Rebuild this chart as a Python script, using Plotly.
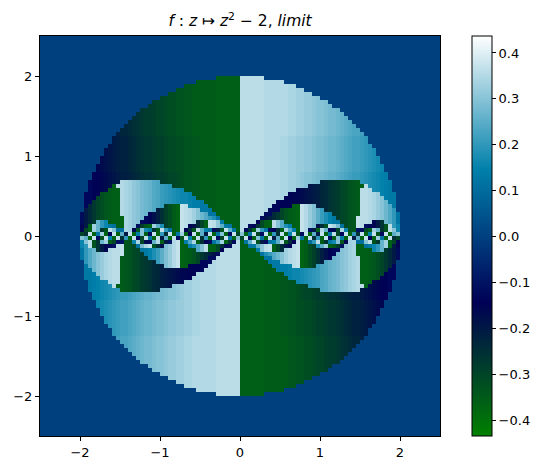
import numpy as np
import plotly.graph_objects as go

# Values, in hundredths, for the quadrant x>0, y>0.
# Cells are 0.05 wide. Rows run from y=1.975 down to y=0.025; short rows end at the disc edge.
quadrant_rows = [
[36,36,36,36,36,36],
[36,36,36,36,36,36,35,35,35,35,35],
[36,36,36,36,36,36,35,35,35,35,35,35,34,34],
[36,36,36,36,36,36,35,35,35,35,35,35,34,34,33,33],
[36,36,36,36,36,36,35,35,35,35,35,35,34,34,33,33,32,32],
[36,36,36,36,36,36,35,35,35,35,35,35,34,34,33,33,32,32,31,30],
[36,36,36,36,36,36,35,35,35,35,35,35,34,34,33,33,32,32,31,30,30,29],
[36,36,36,36,36,36,35,35,35,35,35,35,34,34,33,33,32,32,31,30,30,29,28],
[36,36,36,36,36,36,35,35,35,35,35,35,34,34,33,33,32,32,31,30,30,29,28,28,27],
[36,36,36,36,36,36,35,35,35,35,35,35,34,34,33,33,32,32,31,30,30,29,28,28,27,26],
[36,36,36,36,36,36,35,35,35,35,35,35,34,34,33,33,32,32,31,30,30,29,28,28,27,26,25],
[36,36,36,36,36,36,35,35,35,35,35,35,34,34,33,33,32,32,31,30,30,29,28,28,27,26,25,24],
[36,36,36,36,36,36,35,35,35,35,35,35,34,34,33,33,32,32,31,30,30,29,28,28,27,26,25,24,23],
[36,36,36,36,36,36,35,35,35,35,35,35,34,34,33,33,32,32,31,30,30,29,28,28,27,26,25,24,23,23],
[36,36,36,36,36,36,35,35,35,35,35,35,34,34,33,33,32,32,31,30,30,29,28,28,27,26,25,24,23,23,22],
[36,36,36,36,36,36,35,35,35,35,34,34,33,33,32,32,31,31,30,29,29,28,27,27,26,25,24,23,22,22,21,20],
[36,36,36,36,36,36,35,35,35,35,34,34,33,33,32,32,31,31,30,29,29,28,27,27,26,25,24,23,22,22,21,20],
[36,36,36,36,36,36,35,35,35,35,34,34,33,33,32,32,31,31,30,29,29,28,27,27,26,25,24,23,22,22,21,20,19],
[36,36,36,36,36,36,35,35,35,35,34,34,33,33,32,32,31,31,30,29,29,28,27,27,26,25,24,23,22,22,21,20,19,18],
[36,36,36,36,36,36,35,35,35,35,34,34,33,33,32,32,31,31,30,29,29,28,27,27,26,25,24,23,22,22,21,20,19,18],
[36,36,36,36,36,36,35,35,35,35,34,34,33,33,32,32,31,31,30,29,29,28,27,27,26,25,24,23,22,22,21,20,19,18,17],
[36,36,36,36,36,36,35,35,35,35,34,34,33,33,32,32,31,31,30,29,29,28,27,27,26,25,24,23,22,22,21,20,19,18,17],
[36,36,36,36,36,36,35,35,35,35,34,34,33,33,32,32,31,31,30,29,29,28,27,27,26,25,24,23,22,22,21,20,19,18,17,16],
[36,36,36,36,36,36,35,35,35,35,34,34,33,33,32,32,31,31,30,29,29,28,27,27,26,25,24,23,22,22,21,20,19,18,17,16],
[36,36,36,36,36,36,35,35,35,35,34,34,33,33,32,31,30,30,29,28,28,27,26,26,25,24,23,22,21,21,20,19,18,17,16,15,14],
[36,36,36,36,36,36,35,35,35,35,34,34,33,33,32,31,30,30,29,28,28,27,26,26,25,24,23,22,21,21,20,19,18,17,16,15,14],
[36,36,36,36,36,36,35,35,35,35,34,34,33,33,32,31,30,30,29,28,-23,-24,-26,-27,-28,-30,-31,-33,-34,-35,20,19,18,17,16,15,14,13],
[36,36,36,36,36,36,35,35,35,35,34,34,33,33,32,31,30,-19,-20,-21,-23,-24,-26,-27,-28,-30,-31,-33,-34,-35,-36,36,18,17,16,15,14,13],
[36,36,36,36,36,36,35,35,35,35,34,34,33,33,-16,-17,-18,-19,-20,-21,-23,-24,-26,-27,-28,-30,-31,-33,-34,-35,36,36,35,17,16,15,14,13],
[36,36,36,36,36,36,35,35,35,35,34,34,-15,-16,-16,-17,-18,-19,-20,-21,-23,-24,-26,-27,-28,-30,-31,-33,-34,-35,36,36,35,34,32,15,14,13,13],
[36,36,36,36,36,36,35,35,35,35,34,-14,-15,-16,-16,-17,-18,-19,-20,-21,-23,-24,-26,-27,-28,-30,-31,-33,-34,-35,36,36,35,34,32,30,14,13,13],
[36,36,36,36,36,36,35,35,35,-13,-14,-14,-15,-16,-16,-17,-18,-19,-20,-21,-23,-24,-26,-27,-28,-30,-31,-33,-34,-35,36,36,35,34,32,30,27,13,13],
[36,36,36,36,36,36,35,35,-13,-13,-14,-14,-15,-36,-37,37,35,32,29,-21,-23,-24,-26,-27,-28,-30,-31,-33,-34,-35,36,36,35,34,32,30,27,24,13],
[36,36,36,36,36,36,35,-12,-13,-13,-30,-33,-35,-36,-37,37,35,32,29,25,21,-24,-26,-27,-28,-30,-31,-33,-34,-35,36,36,35,34,32,30,27,24,20],
[36,36,36,36,36,36,-12,-12,-24,-27,-30,-33,-35,-36,-37,37,35,32,29,25,21,18,15,-27,-28,-30,-31,-33,-34,-35,36,36,35,34,32,30,27,24,20,12],
[36,36,36,36,36,-12,-18,-21,-24,-27,-30,-33,-35,-36,-37,37,35,32,29,25,21,18,15,13,-28,-30,-31,-33,-34,37,36,36,35,34,32,30,27,24,20,12],
[36,36,36,36,-14,-31,-36,-37,36,30,24,-33,-35,-36,-37,37,35,32,29,25,21,18,15,13,12,-30,-31,-33,-34,37,36,36,35,-16,-20,-26,27,24,20,12],
[36,36,-12,-13,-25,-31,-36,-37,36,30,24,18,14,-36,-37,37,35,32,29,-18,-25,-33,37,34,28,11,-31,-33,-34,37,36,-11,-13,-16,-20,-26,-33,36,20,16],
[36,-12,-25,-37,33,20,12,-12,-15,-25,-36,34,24,14,-37,37,35,-10,-20,-36,35,26,-13,-17,-30,34,16,-33,-34,-10,-11,-30,-36,33,27,-26,-33,36,30,16],
[30,-37,12,37,-30,-12,37,-37,20,-25,37,-37,15,37,-33,-12,37,-37,25,-20,37,-37,12,36,-30,-14,37,-37,20,-25,37,-37,15,37,-33,-12,37,-37,25,30],
]

colorbar_ticks = [-0.4, -0.3, -0.2, -0.1, 0.0, 0.1, 0.2, 0.3, 0.4]
axis_ticks = [-2, -1, 0, 1, 2]
ocean_scale = [[0, "#008000"], [1/3, "#000055"], [2/3, "#0080AA"], [1, "#FFFFFF"]]
title_text = "<i>f</i> : <i>z</i> ↦ <i>z</i><sup>2</sup> − 2, <i>limit</i>"

n = 50
quad = np.zeros((n, n))
for i, row in enumerate(reversed(quadrant_rows)):
    quad[i, :len(row)] = np.array(row) / 100

# The reference has mirror symmetry with a sign flip across both axes
top = np.hstack([-quad[:, ::-1], quad])
bottom = np.hstack([quad[::-1, ::-1], -quad[::-1, :]])
z = np.vstack([bottom, top])
coords = (np.arange(2 * n) + 0.5) * 0.05 - 2.5

fig = go.Figure(go.Heatmap(
    x=coords, y=coords, z=z,
    zmin=-0.4348, zmax=0.437, colorscale=ocean_scale,
    colorbar=dict(
        x=1.08, xanchor="left", xpad=0, ypad=0, y=0, yanchor="bottom",
        len=1, lenmode="fraction", thickness=20, thicknessmode="pixels",
        outlinewidth=1, outlinecolor="black",
        tickvals=colorbar_ticks, tickformat=".1f",
        ticks="outside", ticklen=4, tickwidth=1, tickcolor="black",
        tickfont=dict(family="DejaVu Sans", size=13, color="black"),
    ),
))

axis_style = dict(
    range=[-2.5, 2.5], tickvals=axis_ticks, ticks="outside", ticklen=4, tickwidth=1,
    tickcolor="black", showline=True, mirror=True, linecolor="black", linewidth=1,
    showgrid=False, zeroline=False, automargin=False,
    tickfont=dict(family="DejaVu Sans", size=13, color="black"),
)
fig.update_layout(
    width=535, height=462, autosize=False,
    margin=dict(l=32, r=103, t=28, b=34),
    paper_bgcolor="white", plot_bgcolor="white",
    title=dict(text=title_text, x=232/535, xanchor="center", y=0.972, yanchor="middle",
               font=dict(family="DejaVu Sans", size=15.5, color="black")),
    xaxis=axis_style, yaxis=axis_style,
)
fig.write_html("out.html")
